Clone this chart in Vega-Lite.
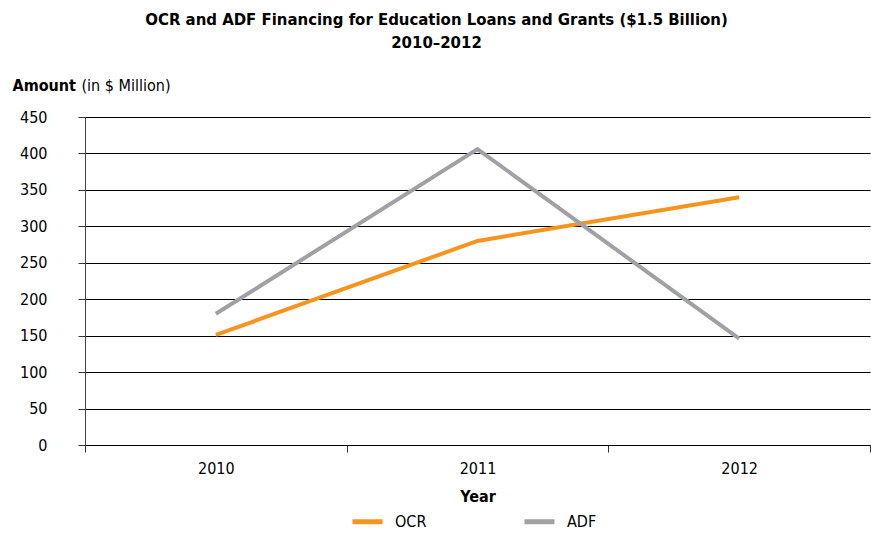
{
  "$schema": "https://vega.github.io/schema/vega-lite/v6.json",
  "width": 785,
  "height": 328,
  "autosize": "none",
  "padding": {"left": 85, "top": 117, "right": 1, "bottom": 88},
  "config": {
    "font": "'DejaVu Sans Condensed', Roboto, sans-serif",
    "view": {"stroke": null}
  },
  "title": {
    "text": ["OCR and ADF Financing for Education Loans and Grants ($1.5 Billion)", "2010–2012"],
    "fontSize": 16.6,
    "fontWeight": "bold",
    "color": "#000000",
    "anchor": "middle",
    "dx": -41,
    "offset": 25,
    "lineHeight": 23
  },
  "data": {
    "values": [
      {"Year": "2010", "Series": "OCR", "Amount": 151},
      {"Year": "2011", "Series": "OCR", "Amount": 280},
      {"Year": "2012", "Series": "OCR", "Amount": 340},
      {"Year": "2010", "Series": "ADF", "Amount": 180},
      {"Year": "2011", "Series": "ADF", "Amount": 406},
      {"Year": "2012", "Series": "ADF", "Amount": 146}
    ]
  },
  "layer": [
    {
      "mark": {"type": "line", "strokeWidth": 4},
      "encoding": {
        "x": {
          "field": "Year", "type": "ordinal", "bandPosition": 0.5,
          "scale": {"type": "band", "paddingInner": 0, "paddingOuter": 0},
          "axis": {
            "title": "Year", "titleFontSize": 16, "titleFontWeight": "bold", "titleColor": "#000",
            "titlePadding": 12,
            "labelAngle": 0, "labelFontSize": 16, "labelColor": "#000", "labelPadding": 8,
            "tickBand": "extent", "tickSize": 7, "tickColor": "#333", "domainColor": "#000",
            "grid": false
          }
        },
        "y": {
          "field": "Amount", "type": "quantitative",
          "scale": {"domain": [0, 450]},
          "axis": {
            "title": "Amount", "titleAngle": 0, "titleAnchor": "start", "titleAlign": "left",
            "titleBaseline": "alphabetic", "titleX": -73, "titleY": -27,
            "titleFontSize": 16, "titleFontWeight": "bold", "titleColor": "#000",
            "values": [0, 50, 100, 150, 200, 250, 300, 350, 400, 450],
            "labelFontSize": 16, "labelColor": "#000", "labelPadding": 31,
            "tickSize": 7, "tickColor": "#333", "domainColor": "#444",
            "grid": true, "gridColor": "#000", "gridOpacity": 1
          }
        },
        "color": {
          "field": "Series", "type": "nominal",
          "scale": {"domain": ["OCR", "ADF"], "range": ["#F7941D", "#A0A1A4"]},
          "legend": {
            "title": null, "orient": "none", "direction": "horizontal",
            "legendX": 265, "legendY": 387,
            "symbolType": "stroke", "symbolSize": 900, "symbolStrokeWidth": 5,
            "labelFontSize": 16, "labelColor": "#000", "labelOffset": 10,
            "columnPadding": 87
          }
        }
      }
    },
    {
      "mark": {"type": "line", "opacity": 0},
      "encoding": {
        "x": {"field": "Year", "type": "ordinal", "bandPosition": 0.5},
        "y": {
          "field": "Amount", "type": "quantitative",
          "axis": {
            "orient": "right", "title": "(in $ Million)", "titleAngle": 0,
            "titleAnchor": "start", "titleAlign": "left", "titleBaseline": "alphabetic",
            "titleX": -789, "titleY": -27, "titleFontSize": 16, "titleFontWeight": "normal",
            "titleColor": "#000", "labels": false, "ticks": false, "domain": false, "grid": false
          }
        },
        "detail": {"field": "Series"}
      }
    }
  ],
  "resolve": {"axis": {"y": "independent"}}
}
